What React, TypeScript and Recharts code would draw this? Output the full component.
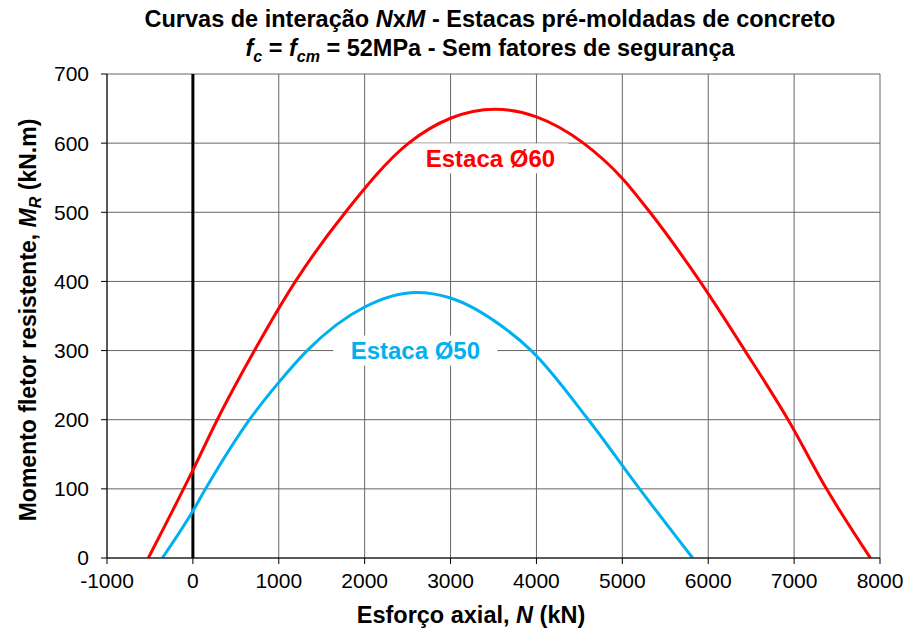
import { LineChart, Line, XAxis, YAxis, CartesianGrid, ReferenceLine, ReferenceDot } from 'recharts';

const FONT = '"Liberation Sans", Arial, sans-serif';

const xTicks = [-1000, 0, 1000, 2000, 3000, 4000, 5000, 6000, 7000, 8000];
const yTicks = [0, 100, 200, 300, 400, 500, 600, 700];

// Estaca Ø60
const nEstaca60 = [-519, 0, 284, 717, 1194, 1776, 2512, 3000, 3520, 4000, 4547, 5000, 5322, 5904, 6427, 6930, 7377, 7888];
const mEstaca60 = [0, 127, 200, 300, 400, 500, 600, 636, 649, 638, 600, 549, 500, 400, 300, 200, 100, 0];

// Estaca Ø50
const nEstaca50 = [-356, 0, 148, 659, 1000, 1330, 2000, 2600, 3000, 3578, 3940, 4605, 5201, 5819];
const mEstaca50 = [0, 68, 100, 200, 254, 300, 363, 384, 376, 337, 300, 200, 100, 0];

const seriesLabels = [
  { text: 'Estaca Ø60', n: 3464, m: 578, color: '#FF0000', w: 156 },
  { text: 'Estaca Ø50', n: 2590, m: 300, color: '#00B0F0', w: 164 },
];

const data60 = nEstaca60.map((n, i) => ({ n, m: mEstaca60[i] }));
const data50 = nEstaca50.map((n, i) => ({ n, m: mEstaca50[i] }));

const tickStyle = { fill: '#000', fontSize: 21, fontFamily: FONT };

function XLabel(props: any) {
  const vb = props.viewBox;
  return (
    <text x={471} y={vb.y + vb.height + 25} textAnchor="middle" fontFamily={FONT} fontSize={23.5} fontWeight="bold" fill="#000">
      Esforço axial, <tspan fontStyle="italic">N</tspan> (kN)
    </text>
  );
}

function YLabel(props: any) {
  const vb = props.viewBox;
  const cy = vb.y + vb.height / 2 + 4;
  return (
    <text x={0} y={0} transform={`translate(36, ${cy}) rotate(-90)`} textAnchor="middle" fontFamily={FONT} fontSize={23} fontWeight="bold" fill="#000">
      Momento fletor resistente, <tspan fontStyle="italic">M</tspan>
      <tspan fontStyle="italic" fontSize={16} dy={5}>R</tspan>
      <tspan dy={-5}> (kN.m)</tspan>
    </text>
  );
}

function SeriesTag(props: any) {
  const { cx, cy, lbl } = props;
  return (
    <g>
      <rect x={cx - lbl.w / 2} y={cy - 15} width={lbl.w} height={30} fill="#fff" />
      <text x={cx} y={cy + 8.5} textAnchor="middle" fontFamily={FONT} fontSize={24} fontWeight="bold" fill={lbl.color}>
        {lbl.text}
      </text>
    </g>
  );
}

export default function App() {
  return (
    <div style={{ position: 'relative', width: 904, height: 628, background: '#fff', fontFamily: FONT }}>
      <style>{'body{margin:0}'}</style>
      <div style={{ position: 'absolute', left: 0, width: 980, top: 5, textAlign: 'center', fontWeight: 'bold', fontSize: 23.5, lineHeight: '29px', color: '#000' }}>
        <div>Curvas de interação <i>N</i>x<i>M</i> - Estacas pré-moldadas de concreto</div>
        <div>
          <i>f</i><sub style={{ fontSize: 16, lineHeight: 0 }}><i>c</i></sub> = <i>f</i><sub style={{ fontSize: 16, lineHeight: 0 }}><i>cm</i></sub> = 52MPa - Sem fatores de segurança
        </div>
      </div>
      <LineChart width={904} height={628} margin={{ top: 74, right: 24, bottom: 30, left: 47 }} style={{ position: 'absolute', left: 0, top: 0 }}>
        <CartesianGrid stroke="#666" strokeWidth={1} />
        <XAxis
          type="number"
          dataKey="n"
          domain={[-1000, 8000]}
          ticks={xTicks}
          allowDataOverflow
          height={40}
          stroke="#000"
          tickSize={6}
          tick={tickStyle}
          tickMargin={9}
          label={<XLabel />}
        />
        <YAxis
          type="number"
          dataKey="m"
          domain={[0, 700]}
          ticks={yTicks}
          allowDataOverflow
          width={60}
          stroke="#000"
          tickSize={6}
          tick={tickStyle}
          tickMargin={12}
          label={<YLabel />}
        />
        <ReferenceLine x={0} stroke="#000" strokeWidth={3} />
        <Line data={data60} dataKey="m" type="monotone" stroke="#FF0000" strokeWidth={3} dot={false} isAnimationActive={false} />
        <Line data={data50} dataKey="m" type="monotone" stroke="#00B0F0" strokeWidth={3} dot={false} isAnimationActive={false} />
        {seriesLabels.map((lbl) => (
          <ReferenceDot key={lbl.text} x={lbl.n} y={lbl.m} r={0} shape={(p: any) => <SeriesTag {...p} lbl={lbl} />} />
        ))}
      </LineChart>
    </div>
  );
}
